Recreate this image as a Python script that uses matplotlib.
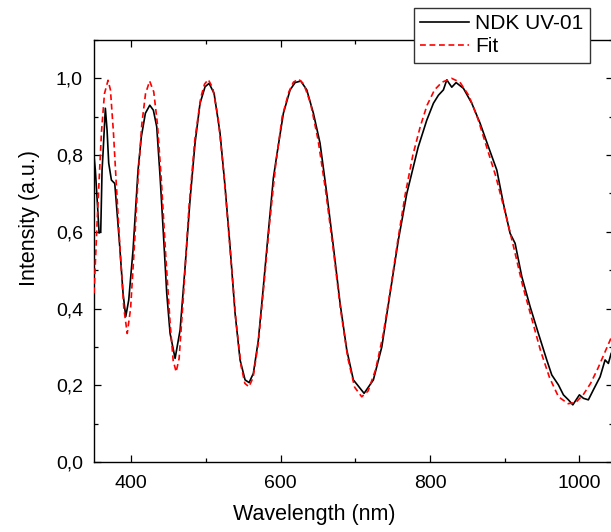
import matplotlib
matplotlib.use('Agg')
import matplotlib.pyplot as plt
from matplotlib.ticker import MultipleLocator, FuncFormatter

plt.rcParams['font.family'] = ['Liberation Sans', 'DejaVu Sans']

# measured spectrum (wavelength nm, intensity a.u.)
meas_x = [350.1, 351.8, 354.5, 356.8, 359.0, 360.8, 362.1, 365.2, 367.5, 369.7,
          373.3, 377.8, 379.9, 384.5, 388.9, 392.5, 396.5, 402.3, 409.0, 413.4,
          418.8, 424.7, 429.5, 434.0, 438.5, 442.9, 447.4, 451.9, 458.6, 465.3,
          472.0, 478.6, 485.3, 492.0, 498.7, 504.1, 510.8, 518.8, 525.5, 532.2,
          538.9, 545.6, 552.3, 557.7, 563.4, 570.1, 576.8, 583.5, 590.2, 594.8,
          603.6, 612.6, 619.3, 626.9, 634.9, 643.8, 652.7, 661.7, 670.6, 679.5,
          688.5, 697.3, 711.7, 724.1, 735.4, 746.5, 757.6, 768.9, 784.0, 795.6,
          804.5, 811.2, 817.9, 822.4, 829.1, 834.9, 844.7, 855.9, 867.0, 878.1,
          889.4, 898.2, 907.2, 913.9, 922.9, 934.0, 945.1, 956.3, 963.0, 971.9,
          978.6, 985.3, 991.2, 1000.0, 1005.4, 1012.0, 1018.7, 1027.7, 1034.4, 1038.8,
          1042.5, 1045.0]
meas_y = [0.796, 0.761, 0.675, 0.597, 0.600, 0.761, 0.805, 0.922, 0.865, 0.779,
          0.735, 0.726, 0.675, 0.561, 0.440, 0.379, 0.422, 0.553, 0.761, 0.848,
          0.909, 0.930, 0.917, 0.874, 0.744, 0.596, 0.440, 0.335, 0.270, 0.344,
          0.509, 0.683, 0.831, 0.935, 0.978, 0.987, 0.961, 0.857, 0.718, 0.561,
          0.388, 0.266, 0.214, 0.207, 0.231, 0.318, 0.457, 0.600, 0.740, 0.800,
          0.909, 0.970, 0.989, 0.993, 0.970, 0.909, 0.831, 0.700, 0.561, 0.414,
          0.292, 0.214, 0.179, 0.214, 0.300, 0.440, 0.579, 0.700, 0.820, 0.891,
          0.935, 0.956, 0.970, 0.996, 0.977, 0.989, 0.974, 0.935, 0.883, 0.822,
          0.761, 0.674, 0.596, 0.570, 0.483, 0.405, 0.335, 0.266, 0.227, 0.201,
          0.175, 0.162, 0.149, 0.175, 0.166, 0.162, 0.188, 0.222, 0.266, 0.257,
          0.283, 0.290]

# fitted curve
fit_x = [350, 355, 360, 364, 368.8, 372, 376, 380, 385, 390,
         394.5, 399, 404, 409, 414, 419, 424.5, 430, 435, 440,
         446, 452, 456, 460, 464, 470, 477, 485, 493, 498,
         503, 509, 516, 524, 532, 540, 547, 552, 557.5, 563,
         570, 577, 585, 593, 602, 611, 617, 624, 631, 640,
         650, 660, 670, 680, 690, 699, 708.5, 717, 727, 737,
         747, 757, 767, 777, 787, 796, 806, 816, 829, 840,
         852, 864, 876, 888, 900, 912, 924, 936, 948, 960,
         972, 985, 995, 1005, 1015, 1025, 1035, 1045]
fit_y = [0.44, 0.66, 0.86, 0.96, 0.995, 0.97, 0.86, 0.72, 0.55, 0.40,
         0.335, 0.40, 0.56, 0.74, 0.88, 0.96, 0.993, 0.965, 0.88, 0.74,
         0.54, 0.36, 0.265, 0.235, 0.27, 0.44, 0.66, 0.84, 0.95, 0.985,
         0.997, 0.975, 0.90, 0.75, 0.56, 0.37, 0.25, 0.205, 0.196, 0.22,
         0.31, 0.45, 0.62, 0.77, 0.90, 0.965, 0.99, 0.998, 0.985, 0.935,
         0.84, 0.71, 0.56, 0.40, 0.27, 0.195, 0.170, 0.185, 0.24, 0.33,
         0.45, 0.58, 0.70, 0.80, 0.875, 0.93, 0.97, 0.99, 1.0, 0.99,
         0.955, 0.895, 0.82, 0.745, 0.655, 0.56, 0.46, 0.375, 0.29, 0.22,
         0.17, 0.152, 0.155, 0.175, 0.205, 0.245, 0.29, 0.335]

LABEL_SIZE = 15.5
TICK_SIZE = 14
LEGEND_SIZE = 15

fig = plt.figure(figsize=(6.11, 5.32), dpi=100)
ax = fig.add_axes([94 / 611, 70 / 532, 519 / 611, 422 / 532])

ax.plot(meas_x, meas_y, color='black', lw=1.2, label='NDK UV-01', zorder=3)
ax.plot(fit_x, fit_y, color='red', lw=1.2, ls=(0, (3.5, 2.2)), label='Fit', zorder=4)

ax.set_xlim(350, 1045)
ax.set_ylim(0, 1.1)

ax.xaxis.set_major_locator(MultipleLocator(200))
ax.xaxis.set_minor_locator(MultipleLocator(100))
ax.yaxis.set_major_locator(MultipleLocator(0.2))
ax.yaxis.set_minor_locator(MultipleLocator(0.1))
ax.yaxis.set_major_formatter(FuncFormatter(lambda v, p: f"{v:.1f}".replace('.', ',')))

ax.tick_params(which='both', direction='in', top=True, right=True, width=0.9,
               labelsize=TICK_SIZE)
ax.tick_params(axis='x', pad=9)
ax.tick_params(axis='y', pad=8)
ax.tick_params(which='major', length=5)
ax.tick_params(which='minor', length=3)
for sp in ax.spines.values():
    sp.set_linewidth(1.0)

ax.set_xlabel('Wavelength (nm)', fontsize=LABEL_SIZE)
ax.set_ylabel('Intensity (a.u.)', fontsize=LABEL_SIZE)
ax.xaxis.set_label_coords(0.424, -0.1)
ax.yaxis.set_label_coords(-0.105, 0.578)

leg = ax.legend(loc='upper right', bbox_to_anchor=(589.5 / 611, 1 - 8 / 532),
                bbox_transform=fig.transFigure, prop={'size': LEGEND_SIZE},
                fancybox=False, framealpha=1, edgecolor='#333333',
                handlelength=2.35, handletextpad=0.3, labelspacing=0.2,
                borderpad=0.3, borderaxespad=0)
leg.get_frame().set_linewidth(1.0)
leg.set_zorder(10)

fig.savefig('out.png', dpi=100)
